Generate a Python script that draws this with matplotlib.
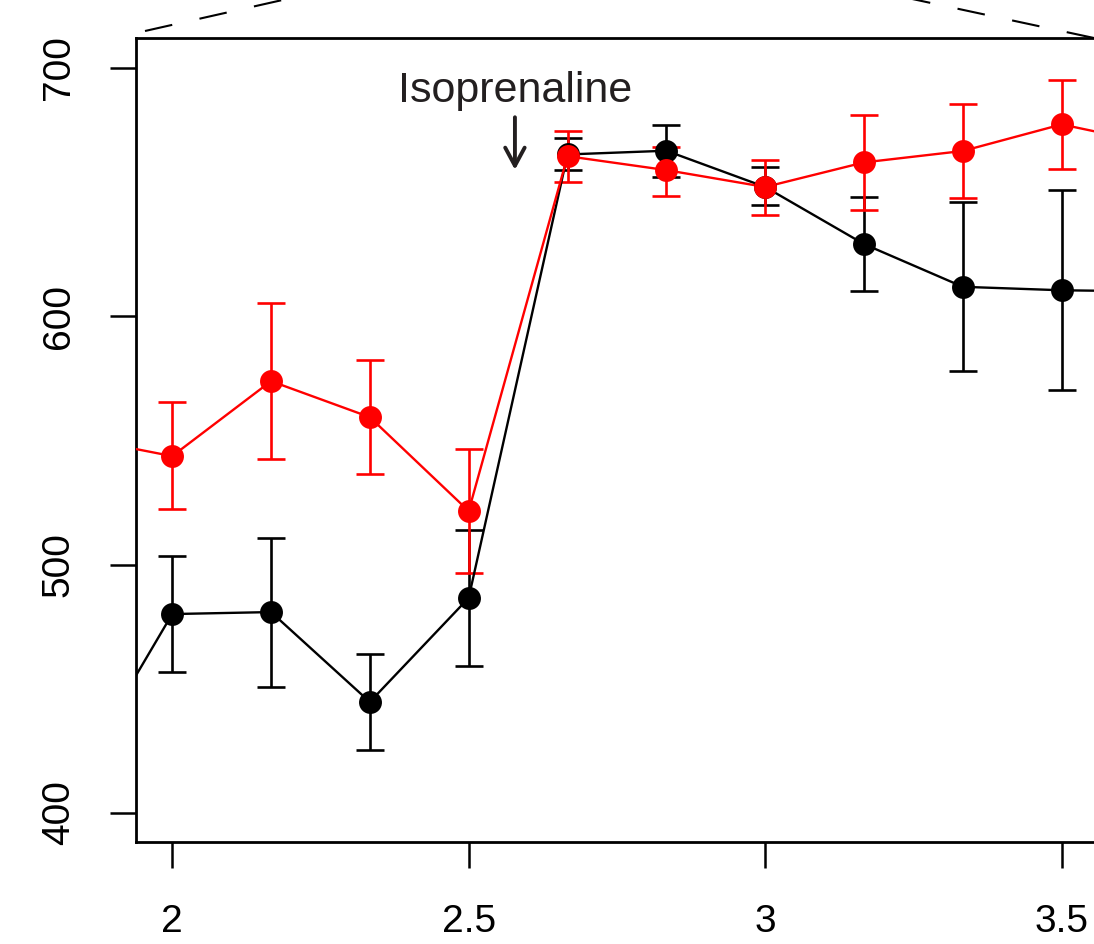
import matplotlib.pyplot as plt
from matplotlib.lines import Line2D
import numpy as np

plt.rcParams['font.family'] = ['Liberation Sans', 'DejaVu Sans']

# DATA ---------------------------------------------------------------------------
time = np.array([2.0, 2.1667, 2.3333, 2.5, 2.6667, 2.8333, 3.0, 3.1667, 3.3333, 3.5])

ctrl_mean = np.array([480.1, 480.9, 444.7, 486.6, 665.2, 666.7, 652.1, 629.1, 611.9, 610.5])
ctrl_hi   = np.array([503.5, 510.7, 464.0, 514.0, 671.9, 676.9, 660.1, 648.2, 646.0, 650.9])
ctrl_lo   = np.array([456.7, 450.7, 425.3, 459.2, 658.9, 656.2, 644.7, 610.3, 578.0, 570.3])

treat_mean = np.array([543.7, 573.9, 559.4, 521.6, 664.5, 658.9, 652.1, 662.0, 666.6, 677.3])
treat_hi   = np.array([565.5, 605.4, 582.4, 546.6, 674.6, 668.3, 663.1, 681.0, 685.5, 695.3])
treat_lo   = np.array([522.4, 542.5, 536.5, 496.6, 654.0, 648.4, 640.7, 643.0, 647.6, 659.3])

# neighbouring points just outside the zoomed window (lines run off the edges)
edge_time = [1.8333, 3.6667]
ctrl_edge = [412.5, 610.0]
treat_edge = [551.5, 668.9]

xticks = [2, 2.5, 3, 3.5]
xtick_labels = ['2', '2.5', '3', '3.5']
yticks = [400, 500, 600, 700]

# FIGURE -------------------------------------------------------------------------
fig = plt.figure(figsize=(10.94, 9.44), dpi=100)
ax = fig.add_axes([136/1094, 1 - 842/944, 1 - 136/1094, (842 - 38)/944])
ax.set_xlim(1.939, 1.939 + (1094 - 136)/593)
ax.set_ylim(388.3, 712.1)


def draw_series(mean, lo, hi, edge, color):
    xs = np.concatenate([[edge_time[0]], time, [edge_time[1]]])
    ys = np.concatenate([[edge[0]], mean, [edge[1]]])
    ax.errorbar(time, mean, yerr=[mean - lo, hi - mean], fmt='none',
                ecolor=color, elinewidth=1.9, capsize=9.8, capthick=1.9, zorder=2)
    ax.plot(xs, ys, color=color, lw=1.7, zorder=3)
    ax.plot(time, mean, 'o', color=color, ms=16.5, mec='none', zorder=4)


draw_series(ctrl_mean, ctrl_lo, ctrl_hi, ctrl_edge, 'black')
draw_series(treat_mean, treat_lo, treat_hi, treat_edge, 'red')

# drug annotation
ax.text(2.578, 686.4, 'Isoprenaline', ha='center', va='baseline',
        fontsize=31, color='#231f20')
ax.annotate('', xy=(2.578, 657.9), xytext=(2.578, 681.3),
            arrowprops=dict(arrowstyle='->,head_length=1.3,head_width=0.7',
                            color='#231f20', lw=2.8))

# axes styling (R base-graphics look)
for side in ['top', 'left', 'bottom']:
    ax.spines[side].set_linewidth(2.0)
ax.spines['right'].set_visible(False)
ax.set_xticks(xticks)
ax.set_xticklabels(xtick_labels)
ax.set_yticks(yticks)
ax.set_yticklabels([str(v) for v in yticks], rotation=90, va='center')
ax.tick_params(axis='x', length=18.7, width=1.8, pad=26, labelsize=28)
ax.tick_params(axis='y', length=18.7, width=1.8, pad=24, labelsize=28)

# dashed zoom guides leading up to the parent plot
fig.add_artist(Line2D([145/1094, 420/1094], [1 - 31/944, 1 + 31/944],
                      transform=fig.transFigure, color='black', lw=1.5,
                      linestyle=(0, (13.4, 13.4))))
fig.add_artist(Line2D([1094/1094, 740/1094], [1 - 38/944, 1 + 38/944],
                      transform=fig.transFigure, color='black', lw=1.5,
                      linestyle=(0, (13.4, 13.4))))

fig.savefig('out.png', dpi=100)
